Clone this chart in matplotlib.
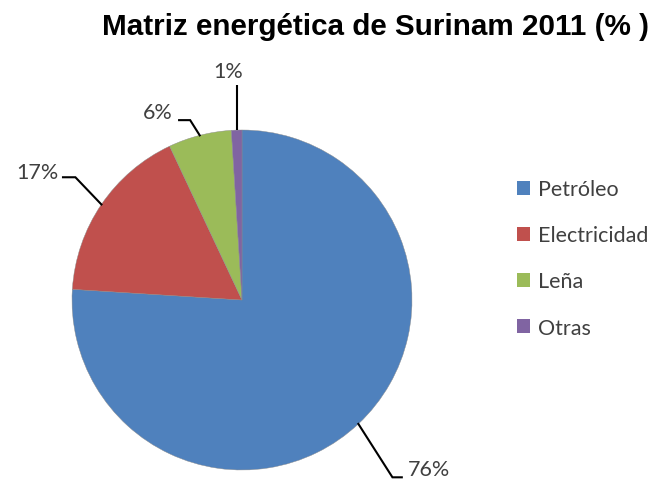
import numpy as np
import matplotlib
matplotlib.use("Agg")
import matplotlib.pyplot as plt
from matplotlib.patches import Patch

# Surinam energy mix 2011 (%)
categories = ["Petróleo", "Electricidad", "Leña", "Otras"]
shares = [76, 17, 6, 1]
colors = ["#4F81BD", "#C0504D", "#9BBB59", "#8064A2"]

# label text position and leader elbow, in pie-radius units
label_pos = [(0.975, -0.995), (-1.08, 0.755), (-0.41, 1.106), (-0.082, 1.347)]
label_ha = ["left", "right", "right", "center"]
elbows = [(0.885, -1.043), (-0.98, 0.722), (-0.305, 1.058), None]
hooks = [(0.94, -1.043), (-1.053, 0.722), (-0.37, 1.058), None]

fig = plt.figure(figsize=(6.59, 4.81), dpi=100)
# one axes over the whole figure, 170 px per unit, pie centred at (242, 301) px
ax = fig.add_axes([0, 0, 1, 1])
cx, cy, r = 242, 301, 170
W, H = 659, 481

wedges, _ = ax.pie(shares, colors=colors, startangle=90, counterclock=False,
                   radius=1.0, wedgeprops=dict(linewidth=0.3, edgecolor="#8a8a8a"))
ax.set_xlim(-cx / r, (W - cx) / r)
ax.set_ylim(-(H - cy) / r, cy / r)
ax.set_aspect("auto")
ax.axis("off")

# leader lines from the middle of each wedge's rim
font_lbl = dict(family=["Lato", "DejaVu Sans"], fontsize=15.5, color="#404040")
for i, w in enumerate(wedges):
    mid = np.deg2rad((w.theta1 + w.theta2) / 2)
    ex, ey = np.cos(mid), np.sin(mid)
    tx, ty = label_pos[i]
    if elbows[i] is None:
        ax.plot([ex, ex], [ey, ty - 0.085], color="black", lw=1.5, solid_capstyle="butt")
    else:
        ax.plot([ex, elbows[i][0], hooks[i][0]], [ey, elbows[i][1], hooks[i][1]],
                color="black", lw=1.5, solid_joinstyle="miter")
    ax.text(tx, ty, f"{shares[i]}%", ha=label_ha[i], va="center", **font_lbl)

fig.text(376 / 659, 1 - 35 / 481, "Matriz energética de Surinam 2011 (% )", ha="center",
         va="baseline", fontsize=21.3, fontweight="bold",
         family=["Liberation Sans", "DejaVu Sans"], color="black")

handles = [Patch(facecolor=c, edgecolor="none") for c in colors]
fig.legend(handles, categories, loc="upper left", bbox_to_anchor=(0.7845, 0.625),
           frameon=False, handlelength=0.6, handleheight=0.6, handletextpad=0.37,
           labelspacing=1.21, borderaxespad=0, borderpad=0,
           prop=dict(family=["Lato", "DejaVu Sans"], size=15.5), labelcolor="#404040")

fig.savefig("out.png", dpi=100)
